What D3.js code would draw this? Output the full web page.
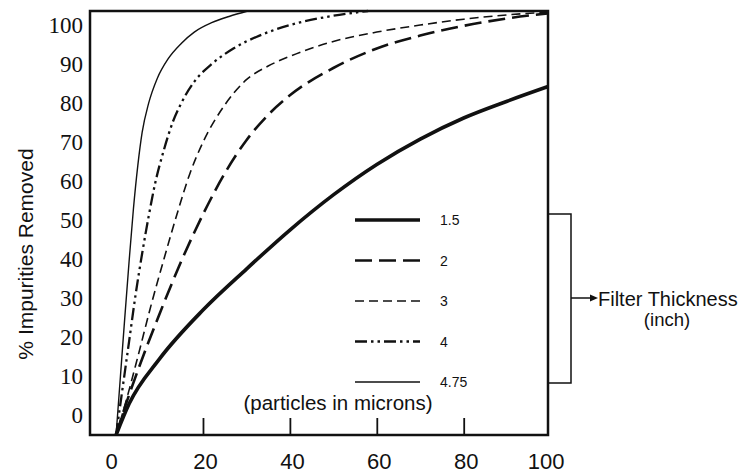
<!DOCTYPE html>
<html>
<head>
<meta charset="utf-8">
<script src="https://cdn.jsdelivr.net/npm/d3@7"></script>
<style>
  body { margin: 0; background: #fff; }
  svg { display: block; }
</style>
</head>
<body>
<div id="container"></div>
<script>
const width = 753,
  height = 474;

/* DATA  (x = particle size in microns, y = % impurities removed) */
const thickness = ["1.5", "2", "3", "4", "4.75"];

const curve15 = [[0,-5],[3,3],[10,14.5],[20,27],[30,37.5],[40,47.5],[50,56.5],[60,64.3],
  [70,70.8],[80,76.2],[90,80.5],[99.3,84.2]];
const curve2 = [[0,-5],[2,2],[5,11.5],[10,26],[15,39.5],[20,51.5],[25,62],[30,70.5],
  [35,77],[40,82],[50,89],[60,94],[70,97.3],[80,99.8],[90,101.7],[99.3,103]];
const curve3 = [[0,-5],[2,2.5],[5,15],[8,28],[11,40],[14,51.5],[17,62],[20,70],[25,79.5],
  [30,86],[35,89.5],[40,92],[50,95.8],[60,98.2],[70,100],[80,101.5],[90,102.6],[99.3,103.3]];
const curve4 = [[0,-5],[1.5,7],[3,19],[4.5,31],[6,41.5],[7.5,51],[9,59.5],[11,68],[13,75],
  [15,80],[18,85.5],[22,90],[27,94],[33,97.3],[40,100],[48,102],[58,103.6]];
const curve475 = [[0,-5],[1,10],[2,25],[3,39.5],[4,53],[5,64],[6,72.5],[7.5,80],[9.5,86.4],
  [12,91.4],[15,95.3],[18,98.2],[22,100.6],[26,102.2],[30.3,103.6]];

const seriesData = [curve15, curve2, curve3, curve4, curve475];

const xTicks = [0, 20, 40, 60, 80, 100];
const xInnerTicks = [20, 40, 60, 80];
const yTicks = [0, 10, 20, 30, 40, 50, 60, 70, 80, 90, 100];

// line styles per thickness
const styles = [
  { w: 3.6, dash: null },
  { w: 2.6, dash: "17,7" },
  { w: 1.6, dash: "9,5" },
  { w: 2.3, dash: "12,4,2.5,4,2.5,4" },
  { w: 1.4, dash: null }
];

const svg = d3.select("#container").append("svg")
  .attr("width", width)
  .attr("height", height)
  .style("background", "#fff");

/* SCALES */
const xScale = d3.scaleLinear()
  .domain([-6, 99.4])
  .range([90, 548]);

const yScale = d3.scaleLinear()
  .domain([-5, 103.6])
  .range([435, 11]);

const ink = "#111";

/* CURVES */
const line = d3.line()
  .x(d => xScale(d[0]))
  .y(d => yScale(d[1]))
  .curve(d3.curveMonotoneX);

svg.selectAll("path.curve")
  .data(seriesData)
  .join("path")
  .attr("class", "curve")
  .attr("d", line)
  .attr("fill", "none")
  .attr("stroke", ink)
  .attr("stroke-width", (d, i) => styles[i].w)
  .attr("stroke-dasharray", (d, i) => styles[i].dash);

/* FRAME */
svg.append("rect")
  .attr("x", xScale.range()[0])
  .attr("y", yScale.range()[1])
  .attr("width", xScale.range()[1] - xScale.range()[0])
  .attr("height", yScale.range()[0] - yScale.range()[1])
  .attr("fill", "none")
  .attr("stroke", ink)
  .attr("stroke-width", 2.5);

/* AXES */
// inner tick marks on the bottom
svg.append("g")
  .attr("transform", `translate(0, ${yScale.range()[0]})`)
  .call(d3.axisBottom(xScale).tickValues(xInnerTicks).tickSize(-17).tickFormat(""))
  .call(g => g.select(".domain").remove())
  .call(g => g.selectAll("line").attr("stroke", ink).attr("stroke-width", 1.8));

// bottom labels
svg.append("g")
  .attr("transform", `translate(2, ${yScale.range()[0]})`)
  .call(d3.axisBottom(xScale).tickValues(xTicks).tickSize(0).tickPadding(18))
  .call(g => g.select(".domain").remove())
  .call(g => g.selectAll("text")
    .attr("fill", ink)
    .attr("dx", d => (d === 0 || d === 100) ? -7 : 0)
    .style("font-family", "Liberation Sans, Arial, sans-serif")
    .style("font-size", "22px"));

// left labels
svg.append("g")
  .attr("transform", `translate(${xScale.range()[0]}, 0)`)
  .call(d3.axisLeft(yScale).tickValues(yTicks).tickSize(0).tickPadding(7))
  .call(g => g.select(".domain").remove())
  .call(g => g.selectAll("text")
    .attr("fill", ink)
    .style("font-family", "Liberation Serif, Times New Roman, serif")
    .style("font-size", "23px"));

svg.append("text")
  .attr("transform", "translate(33, 254) rotate(-90)")
  .attr("text-anchor", "middle")
  .attr("fill", ink)
  .style("font-family", "Liberation Sans, Arial, sans-serif")
  .style("font-size", "21px")
  .text("% Impurities Removed");

/* LEGEND */
const legend = svg.append("g").attr("transform", "translate(355, 220)");
const legendStep = 40.5;

legend.selectAll("line")
  .data(thickness)
  .join("line")
  .attr("x1", 0)
  .attr("x2", 65)
  .attr("y1", (d, i) => i * legendStep)
  .attr("y2", (d, i) => i * legendStep)
  .attr("stroke", ink)
  .attr("stroke-width", (d, i) => styles[i].w)
  .attr("stroke-dasharray", (d, i) => styles[i].dash);

legend.selectAll("text")
  .data(thickness)
  .join("text")
  .attr("x", 85)
  .attr("y", (d, i) => i * legendStep + 5)
  .attr("fill", ink)
  .style("font-family", "Liberation Sans, Arial, sans-serif")
  .style("font-size", "14px")
  .text(d => d);

svg.append("text")
  .attr("x", 338)
  .attr("y", 410)
  .attr("text-anchor", "middle")
  .attr("fill", ink)
  .style("font-family", "Liberation Sans, Arial, sans-serif")
  .style("font-size", "20.5px")
  .text("(particles in microns)");

/* BRACKET + ARROW */
svg.append("path")
  .attr("d", "M548,214 H571 V383 H548")
  .attr("fill", "none")
  .attr("stroke", ink)
  .attr("stroke-width", 1.5);

svg.append("line")
  .attr("x1", 571).attr("x2", 592)
  .attr("y1", 298).attr("y2", 298)
  .attr("stroke", ink)
  .attr("stroke-width", 1.5);

svg.append("path")
  .attr("d", "M598,298 L590,294.5 L590,301.5 Z")
  .attr("fill", ink);

svg.append("text")
  .attr("x", 598)
  .attr("y", 306)
  .attr("fill", ink)
  .style("font-family", "Liberation Sans, Arial, sans-serif")
  .style("font-size", "20px")
  .text("Filter Thickness");

svg.append("text")
  .attr("x", 667)
  .attr("y", 326)
  .attr("text-anchor", "middle")
  .attr("fill", ink)
  .style("font-family", "Liberation Sans, Arial, sans-serif")
  .style("font-size", "18.5px")
  .text("(inch)");
</script>
</body>
</html>
